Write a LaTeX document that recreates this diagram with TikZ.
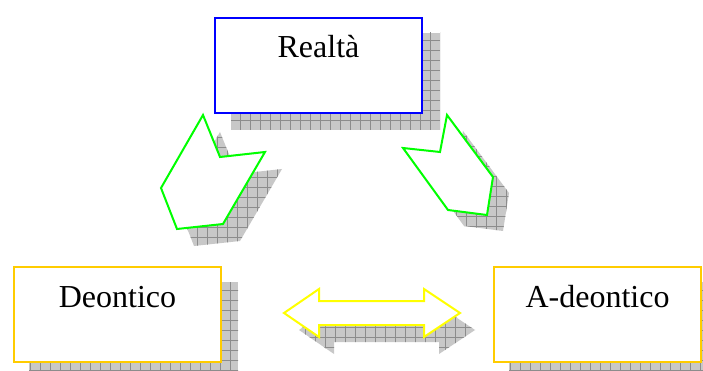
\documentclass[tikz,border=0pt]{standalone}
\usepackage{fontspec}
\setmainfont{Liberation Serif}
\usetikzlibrary{backgrounds}

\definecolor{boxblue}{RGB}{0,0,255}
\definecolor{boxgold}{RGB}{255,204,0}
\definecolor{arrowgreen}{RGB}{0,255,0}
\definecolor{arrowyellow}{RGB}{255,255,0}
\definecolor{shadowfill}{RGB}{200,200,200}
\definecolor{shadowline}{RGB}{140,140,140}

\tikzset{
  realm/.style={draw, line width=2pt, fill=white, inner sep=0pt,
    minimum width=207pt, minimum height=95pt, text height=40pt, text depth=55pt,
    anchor=north west, font=\fontsize{32}{38}\selectfont},
  blockarrow/.style={line width=2pt, fill=white, line join=miter},
  gridline/.style={shadowline, line width=0.6pt}
}

% grey grid shadow of a closed path
\newcommand{\gridshadow}[1]{%
  \fill[shadowfill] #1;
  \begin{scope}
    \clip #1;
    \draw[gridline, step=10pt] (-20,-20) grid (720,400);
  \end{scope}}

\newcommand{\leftpath}{(203,115) -- (220,157) -- (265,152) -- (223,224) -- (177,229) -- (161,188) -- cycle}
\newcommand{\rightpath}{(447,115) -- (493,177) -- (487,215) -- (448,210) -- (403,148) -- (440,152) -- cycle}
\newcommand{\bothpath}{(284,313) -- (319,289) -- (319,301) -- (424,301) -- (424,289) -- (460,313)
  -- (424,337) -- (424,325) -- (319,325) -- (319,337) -- cycle}

\begin{document}
\begin{tikzpicture}[x=1pt, y=-1pt]
  \useasboundingbox (0,0) rectangle (703,371);

  \node[realm, draw=boxblue] (real) at (214,17) {Realtà};
  \node[realm, draw=boxgold] (deon) at (13,266) {Deontico};
  \node[realm, draw=boxgold] (adeon) at (493,266) {A-deontico};

  \begin{scope}[on background layer]
    \gridshadow{([shift={(17,16)}]real.north west) rectangle ([shift={(17,16)}]real.south east)}
    \gridshadow{([shift={(16,16)}]deon.north west) rectangle ([shift={(16,16)}]deon.south east)}
    \gridshadow{([shift={(16,16)}]adeon.north west) rectangle ([shift={(16,16)}]adeon.south east)}
  \end{scope}

  \begin{scope}[shift={(17,17)}] \gridshadow{\leftpath} \end{scope}
  \begin{scope}[shift={(16,16)}] \gridshadow{\rightpath} \end{scope}
  \begin{scope}[shift={(15,17)}] \gridshadow{\bothpath} \end{scope}

  \draw[blockarrow, draw=arrowgreen] \leftpath;
  \draw[blockarrow, draw=arrowgreen] \rightpath;
  \draw[blockarrow, draw=arrowyellow] \bothpath;
\end{tikzpicture}
\end{document}
